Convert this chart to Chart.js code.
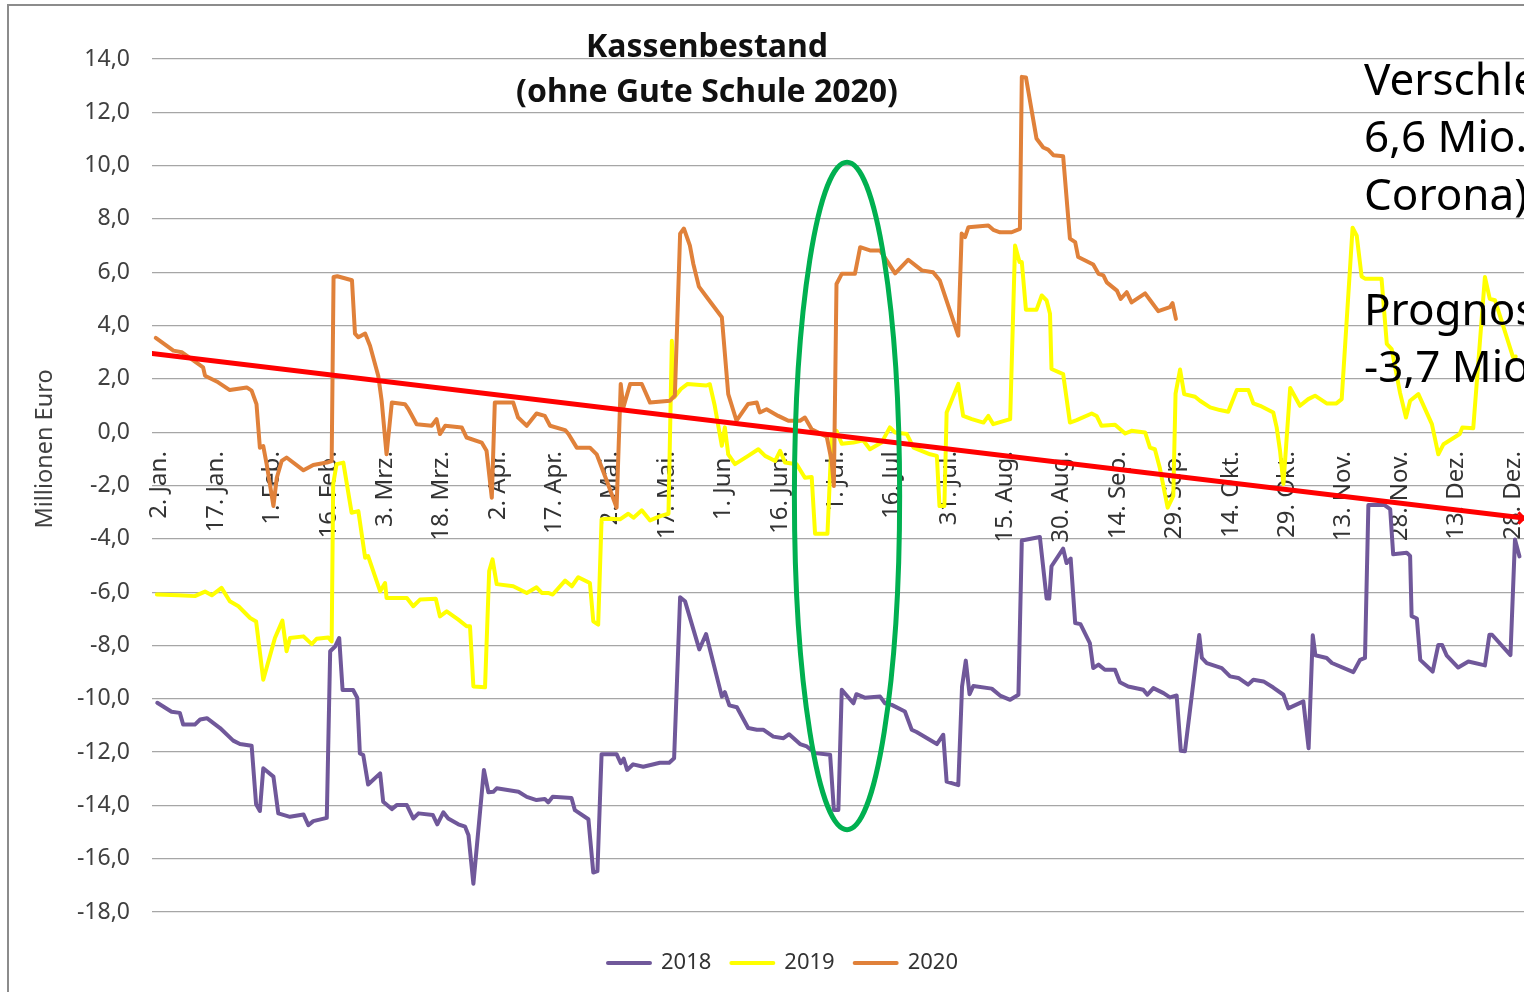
<!DOCTYPE html>
<html lang="de">
<head>
<meta charset="utf-8">
<title>Kassenbestand</title>
<script src="https://cdn.jsdelivr.net/npm/chart.js@4.4.1/dist/chart.umd.min.js"></script>
<style>
  html, body { margin: 0; padding: 0; background: #fff; overflow: hidden; }
  #wrap { width: 1524px; height: 992px; }
</style>
</head>
<body>
<div id="wrap"><canvas id="kasse" width="1524" height="992"></canvas></div>
<script>
// Kassenbestand in Mio. Euro, x = Tag im Jahr (0 = 1. Jan.)
const days2018 = [0.4, 4.2, 6.4, 7.3, 10.4, 11.8, 13.6, 17.1, 20.6, 22.4, 25.5, 26.7, 27.7, 28.6, 31.3, 32.6, 35.7, 39.3, 40.6, 41.9,
  45.5, 46.4, 47.7, 48.8, 49.7, 52.5, 53.6, 54.3, 55.2, 56.5, 59.7, 60.5, 62.8, 64.1, 66.8, 68.5, 69.9, 73.7, 74.9, 76.5,
  77.8, 80.5, 82.3, 83.2, 84.5, 87.3, 88.5, 89.8, 90.7, 96.5, 98.7, 101.3, 103.5, 104.4, 105.6, 110.6, 111.5, 115.1, 116.4, 117.5,
  118.6, 122.6, 123.7, 124.5, 125.4, 127, 129.7, 134.1, 136.6, 137.9, 139.5, 140.8, 144.6, 146.4, 150.6, 151.4, 152.6, 154.6, 157.6, 159.9,
  161.6, 164.3, 167, 168.5, 171.4, 173.2, 175.4, 179.4, 180.4, 181.6, 182.5, 185.6, 186.4, 188.6, 192.7, 194, 195.8, 199.3, 201.1, 202.4,
  207.8, 209.5, 210.4, 213.5, 214.5, 215.5, 216.5, 217.5, 222.4, 224.6, 227.3, 229.5, 230.4, 235.2, 237, 237.7, 238.3, 241.4, 242.3, 243.4,
  244.6, 246, 248.5, 249.4, 250.8, 252.5, 255.2, 256.5, 258.7, 262.7, 263.8, 265.4, 268.1, 269.8, 271.6, 272.7, 273.8, 277.6, 278.3, 279.6,
  283.6, 285.8, 288, 290.6, 292, 294.7, 297.3, 300, 301.3, 305.3, 306.7, 307.8, 308.5, 311.5, 312.9, 318.6, 320.4, 321.7, 322.6, 326.8,
  328.4, 329.2, 332.8, 333.7, 334.1, 335.5, 336.4, 339.7, 341.2, 342.2, 343.4, 346.5, 349.2, 353.6, 354.8, 355.5, 360.4, 361.6, 362.8];
const values2018 = [-10.15, -10.49, -10.53, -10.97, -10.97, -10.78, -10.73, -11.1, -11.57, -11.7, -11.76, -13.96, -14.21, -12.61, -12.92, -14.3, -14.43, -14.34, -14.74, -14.59,
  -14.47, -8.22, -8.04, -7.72, -9.67, -9.67, -9.96, -12.05, -12.11, -13.22, -12.8, -13.86, -14.14, -13.99, -13.99, -14.49, -14.3, -14.36, -14.71, -14.26,
  -14.49, -14.71, -14.8, -15.12, -16.94, -12.67, -13.51, -13.49, -13.36, -13.49, -13.68, -13.8, -13.76, -13.89, -13.68, -13.72, -14.18, -14.52, -16.52, -16.47,
  -12.08, -12.08, -12.42, -12.25, -12.67, -12.46, -12.55, -12.4, -12.4, -12.23, -6.19, -6.34, -8.15, -7.57, -9.92, -9.75, -10.25, -10.32, -11.1, -11.16,
  -11.16, -11.42, -11.48, -11.33, -11.7, -11.79, -12.04, -12.1, -14.17, -14.17, -9.66, -10.17, -9.83, -9.96, -9.92, -10.17, -10.23, -10.48, -11.16, -11.25,
  -11.7, -11.35, -13.11, -13.24, -9.54, -8.57, -9.83, -9.52, -9.62, -9.88, -10.04, -9.85, -4.06, -3.93, -6.24, -6.24, -5.03, -4.37, -4.91, -4.74,
  -7.16, -7.2, -7.91, -8.85, -8.72, -8.91, -8.91, -9.38, -9.54, -9.66, -9.85, -9.6, -9.79, -9.95, -9.88, -11.95, -11.97, -7.61, -8.47, -8.66,
  -8.85, -9.16, -9.22, -9.47, -9.29, -9.35, -9.58, -9.85, -10.36, -10.1, -11.86, -7.62, -8.37, -8.47, -8.66, -9.0, -8.54, -8.47, -2.73, -2.73,
  -2.89, -4.58, -4.52, -4.64, -6.9, -6.99, -8.54, -8.98, -7.98, -7.98, -8.37, -8.83, -8.6, -8.75, -7.6, -7.6, -8.36, -4.03, -4.66];

const days2019 = [0.3, 6, 10.4, 13.1, 14.9, 17.5, 19.7, 22, 25.1, 26.7, 28.6, 31.7, 33.7, 34.8, 35.7, 39.3, 41.5, 42.8, 45.9, 46.8,
  47.2, 48.1, 49.9, 52.1, 53.9, 55.7, 56.5, 59.7, 61, 61.4, 66.8, 68.5, 70.3, 74.5, 75.6, 77.4, 80.5, 82.7, 83.6, 84.5,
  87.6, 88.7, 89.6, 90.7, 95.1, 98.7, 101.3, 102.7, 104.4, 105.6, 108.9, 110.7, 112.4, 115.5, 116.4, 117.7, 118.6, 120.8, 123.5, 125.7,
  127.1, 129.3, 131.5, 134.2, 136.4, 137.3, 137.9, 139.7, 141.5, 146.4, 147.4, 148.7, 150.6, 151.4, 152.3, 154.1, 157.6, 160.3, 162.1, 164.8,
  166.1, 167.4, 170.5, 172.7, 174.5, 175.4, 178.7, 179.8, 181.1, 182.5, 185.6, 188.2, 190, 193.1, 195.3, 196.7, 199.8, 201.6, 206, 207.8,
  208.5, 209.8, 210.4, 213.5, 214.8, 217.1, 220.2, 221.5, 222.8, 227.3, 228.6, 229.8, 230.4, 231.5, 234.3, 235.7, 237, 237.9, 238.3, 241.4,
  243.2, 245, 249, 250.3, 251.6, 255.2, 257.9, 259.6, 263.2, 264.5, 265.8, 267.1, 269.2, 270.7, 271.3, 272.5, 273.6, 276.5, 277.8, 280.5,
  283.1, 285.3, 287.6, 290.7, 292, 293.8, 297.3, 298.2, 299.1, 300, 301.8, 304.4, 306.6, 308.4, 311.5, 314.1, 315.5, 318.4, 319.5, 320.8,
  321.7, 326.1, 327.5, 328.8, 331, 332.6, 333.7, 335.9, 339.5, 341.2, 342.6, 346.9, 347.6, 350.5, 353.6, 354.9, 356.3, 361.1, 361.8];
const values2019 = [-6.09, -6.12, -6.15, -5.98, -6.12, -5.84, -6.34, -6.53, -6.97, -7.1, -9.29, -7.72, -7.07, -8.22, -7.72, -7.66, -7.95, -7.75, -7.7, -7.85,
  -1.95, -1.2, -1.14, -3.02, -2.96, -4.71, -4.65, -5.97, -5.66, -6.22, -6.22, -6.53, -6.28, -6.25, -6.91, -6.72, -7.03, -7.28, -7.28, -9.54,
  -9.57, -5.21, -4.77, -5.7, -5.78, -6.03, -5.82, -6.03, -6.03, -6.09, -5.57, -5.78, -5.44, -5.66, -7.1, -7.22, -3.27, -3.25, -3.27, -3.06,
  -3.21, -2.93, -3.31, -3.15, -3.06, 3.43, 1.3, 1.62, 1.81, 1.75, 1.8, 1.0, -0.51, 0.18, -0.83, -1.2, -0.89, -0.64, -0.89, -1.08,
  -0.7, -1.14, -1.2, -1.71, -1.68, -3.81, -3.81, -0.2, 0.05, -0.43, -0.39, -0.3, -0.64, -0.39, 0.18, -0.01, -0.07, -0.58, -0.83, -0.89,
  -2.77, -2.77, 0.74, 1.81, 0.61, 0.49, 0.36, 0.61, 0.3, 0.49, 7.0, 6.38, 6.38, 4.59, 4.59, 5.13, 4.94, 4.44, 2.37, 2.18,
  0.36, 0.45, 0.7, 0.61, 0.24, 0.28, -0.05, 0.05, -0.01, -0.58, -0.64, -1.33, -2.83, -2.39, 1.45, 2.35, 1.43, 1.33, 1.18, 0.93,
  0.83, 0.77, 1.58, 1.58, 1.08, 0.99, 0.74, 0.18, -0.7, -1.95, 1.66, 0.99, 1.24, 1.37, 1.08, 1.08, 1.24, 7.67, 7.37, 5.84,
  5.76, 5.76, 3.31, 3.12, 1.49, 0.55, 1.18, 1.43, 0.3, -0.83, -0.45, -0.07, 0.18, 0.15, 5.82, 5.0, 4.95, 2.81, 2.84];

const days2020 = [0, 4.7, 6.9, 12.6, 13.1, 16.6, 19.7, 24.2, 25.5, 26.8, 27.7, 28.6, 29.5, 31.3, 32.2, 33.5, 34.8, 39.3, 41.9, 45.5,
  46.8, 47.3, 48.3, 52.2, 53, 53.9, 55.7, 57, 59.2, 60.1, 61.4, 62.8, 66.3, 67.2, 69.4, 73.4, 74.7, 75.6, 77, 81.4,
  82.7, 86.7, 88, 89.4, 90.2, 95.1, 96.4, 98.7, 101.3, 103.5, 104.9, 108.9, 109.8, 112, 115.5, 117.3, 120, 122.6, 123.7, 124.4,
  126.2, 129.3, 131.5, 136.8, 138.1, 139.5, 140.5, 142.1, 143, 144.5, 146.6, 150.6, 152.3, 154.5, 157.6, 159.9, 160.7, 162.5, 165.6, 167.4,
  168.3, 171.4, 172.7, 174.5, 178.5, 179.8, 180.4, 181.1, 182.5, 186, 187.4, 190, 192.7, 196.7, 200.2, 203.8, 206.8, 208.6, 213.5, 214.4,
  215.3, 216.2, 221.5, 222.8, 224.6, 227.7, 229.9, 230.4, 231.5, 234.3, 236.1, 237.4, 238.8, 241.4, 243.2, 244.6, 245.4, 249.4, 250.8, 252.1,
  253, 255.7, 256.7, 258.3, 259.6, 263.2, 264.5, 266.7, 269.8, 270.5, 271.4];
const values2020 = [3.54, 3.06, 3.0, 2.43, 2.12, 1.87, 1.58, 1.68, 1.56, 1.05, -0.58, -0.52, -1.2, -2.77, -1.71, -1.08, -0.95, -1.43, -1.23, -1.14,
  -1.08, 5.82, 5.85, 5.7, 3.7, 3.56, 3.7, 3.24, 2.11, 1.18, -0.83, 1.11, 1.05, 0.87, 0.3, 0.24, 0.49, -0.07, 0.24, 0.18,
  -0.2, -0.39, -0.7, -2.46, 1.11, 1.11, 0.55, 0.24, 0.7, 0.61, 0.24, 0.08, -0.07, -0.58, -0.58, -0.83, -1.83, -2.83, 1.81, 0.93,
  1.81, 1.81, 1.11, 1.18, 1.37, 7.45, 7.64, 7.0, 6.32, 5.46, 5.06, 4.31, 1.43, 0.43, 1.06, 1.11, 0.74, 0.86, 0.61, 0.49,
  0.43, 0.43, 0.55, 0.11, -0.17, -1.08, -2.02, 5.56, 5.94, 5.94, 6.94, 6.82, 6.82, 5.96, 6.47, 6.07, 6.0, 5.69, 3.62, 7.45,
  7.32, 7.69, 7.75, 7.59, 7.5, 7.5, 7.63, 13.33, 13.31, 11.02, 10.68, 10.6, 10.39, 10.35, 7.26, 7.13, 6.57, 6.29, 5.94, 5.88,
  5.62, 5.31, 5.0, 5.25, 4.87, 5.21, 4.96, 4.54, 4.69, 4.84, 4.25];

// Trendlinie (rot)
const trendDays = [-1, 364];
const trendValues = [2.95, -3.22];

// Datumsbeschriftung alle 15 Tage
const tickDays = [1, 16, 31, 46, 61, 76, 91, 106, 121, 136, 151, 166, 181, 196, 211, 226, 241, 256, 271, 286, 301, 316, 331, 346, 361];
const tickLabels = ['2. Jan.', '17. Jan.', '1. Feb.', '16. Feb.', '3. Mrz.', '18. Mrz.', '2. Apr.', '17. Apr.', '2. Mai.', '17. Mai.',
  '1. Jun.', '16. Jun.', '1. Jul.', '16. Jul', '31. Jul.', '15. Aug.', '30. Aug.', '14. Sep.', '29. Sep.', '14. Okt.',
  '29. Okt.', '13. Nov.', '28. Nov.', '13. Dez.', '28. Dez.'];

// Markierung Juli (Ellipse) in Tagen / Mio. Euro
const ellipseCenter = [183.9, -2.39];
const ellipseRadius = [14, 12.52];

const noteLines = ['Verschlechterung', '6,6 Mio.', 'Corona)', '', 'Prognose', '-3,7 Mio.'];

const FONT = '"Noto Sans", "Open Sans", sans-serif';

function toPoints(days, values) {
  return days.map((d, i) => ({ x: d, y: values[i] }));
}

const extras = {
  id: 'extras',
  beforeDraw(chart) {
    const ctx = chart.ctx;
    ctx.save();
    ctx.fillStyle = '#fff';
    ctx.fillRect(0, 0, chart.width, chart.height);
    // Rahmen
    ctx.strokeStyle = '#8c8c8c';
    ctx.lineWidth = 2;
    ctx.beginPath();
    ctx.moveTo(8, chart.height);
    ctx.lineTo(8, 5);
    ctx.lineTo(chart.width, 5);
    ctx.stroke();
    ctx.restore();
  },
  beforeDatasetsDraw(chart) {
    // Datumsbeschriftung an der Nulllinie
    const { ctx, scales: { x, y } } = chart;
    const y0 = y.getPixelForValue(0);
    ctx.save();
    ctx.font = '24px ' + FONT;
    ctx.fillStyle = '#333';
    ctx.textAlign = 'right';
    ctx.textBaseline = 'middle';
    tickDays.forEach((d, i) => {
      ctx.save();
      ctx.translate(x.getPixelForValue(d), y0 + 19);
      ctx.rotate(-Math.PI / 2);
      ctx.fillText(tickLabels[i], 0, 0);
      ctx.restore();
    });
    ctx.restore();
  },
  afterDraw(chart) {
    const { ctx, scales: { x, y } } = chart;
    ctx.save();

    // Ellipse
    const cx = x.getPixelForValue(ellipseCenter[0]);
    const cy = y.getPixelForValue(ellipseCenter[1]);
    const rx = x.getPixelForValue(ellipseCenter[0] + ellipseRadius[0]) - cx;
    const ry = cy - y.getPixelForValue(ellipseCenter[1] + ellipseRadius[1]);
    ctx.strokeStyle = '#00b050';
    ctx.lineWidth = 5;
    ctx.beginPath();
    ctx.ellipse(cx, cy, rx, ry, 0, 0, Math.PI * 2);
    ctx.stroke();

    // Titel
    ctx.fillStyle = '#111';
    ctx.textAlign = 'center';
    ctx.textBaseline = 'middle';
    ctx.font = 'bold 32px ' + FONT;
    ctx.fillText('Kassenbestand', 707, 48);
    ctx.fillText('(ohne Gute Schule 2020)', 707, 93);

    // Achsentitel
    ctx.save();
    ctx.translate(45, 449);
    ctx.rotate(-Math.PI / 2);
    ctx.font = '23.5px ' + FONT;
    ctx.fillStyle = '#404040';
    ctx.fillText('Millionen Euro', 0, 0);
    ctx.restore();

    // Textfeld rechts
    ctx.textAlign = 'left';
    ctx.fillStyle = '#000';
    ctx.font = '44px ' + FONT;
    noteLines.forEach((t, i) => {
      ctx.fillText(t, 1364, 82 + i * 57.5);
    });
    ctx.restore();
  }
};

const ctx = document.getElementById('kasse').getContext('2d');
const chart = new Chart(ctx, {
  type: 'line',
  data: {
    datasets: [
      {
        label: '2018',
        data: toPoints(days2018, values2018),
        borderColor: '#70589a',
        backgroundColor: '#70589a',
        order: 4
      },
      {
        label: '2019',
        data: toPoints(days2019, values2019),
        borderColor: '#ffff00',
        backgroundColor: '#ffff00',
        order: 3
      },
      {
        label: '2020',
        data: toPoints(days2020, values2020),
        borderColor: '#e0813a',
        backgroundColor: '#e0813a',
        order: 2
      },
      {
        label: 'Trend',
        data: toPoints(trendDays, trendValues),
        borderColor: '#ff0000',
        backgroundColor: '#ff0000',
        borderWidth: 5,
        pointRadius: [0, 8],
        pointStyle: 'crossRot',
        pointBorderWidth: 3,
        order: 1
      }
    ]
  },
  options: {
    responsive: false,
    animation: false,
    events: [],
    elements: {
      line: { borderWidth: 4, tension: 0, borderJoinStyle: 'round', borderCapStyle: 'round' },
      point: { radius: 0 }
    },
    layout: { autoPadding: false, padding: { top: 59, left: 42, right: 0, bottom: 8 } },
    scales: {
      x: {
        type: 'linear',
        min: -1,
        max: 364,
        ticks: { display: false },
        grid: { display: false },
        border: { display: false },
        afterFit(scale) { scale.height = 20; }
      },
      y: {
        min: -18,
        max: 14,
        ticks: {
          stepSize: 2,
          padding: 22,
          color: '#404040',
          font: { family: FONT, size: 23 },
          callback: v => v.toFixed(1).replace('.', ',')
        },
        grid: { color: '#a6a6a6', lineWidth: 1.2, drawTicks: false },
        border: { display: false },
        afterFit(scale) { scale.width = 110; }
      }
    },
    plugins: {
      legend: {
        position: 'bottom',
        labels: {
          color: '#333',
          font: { family: FONT, size: 22 },
          boxWidth: 42,
          boxHeight: 0,
          padding: 20,
          filter: item => item.datasetIndex < 3,
          sort: (a, b) => a.datasetIndex - b.datasetIndex
        }
      },
      tooltip: { enabled: false }
    }
  },
  plugins: [extras]
});
</script>
</body>
</html>
